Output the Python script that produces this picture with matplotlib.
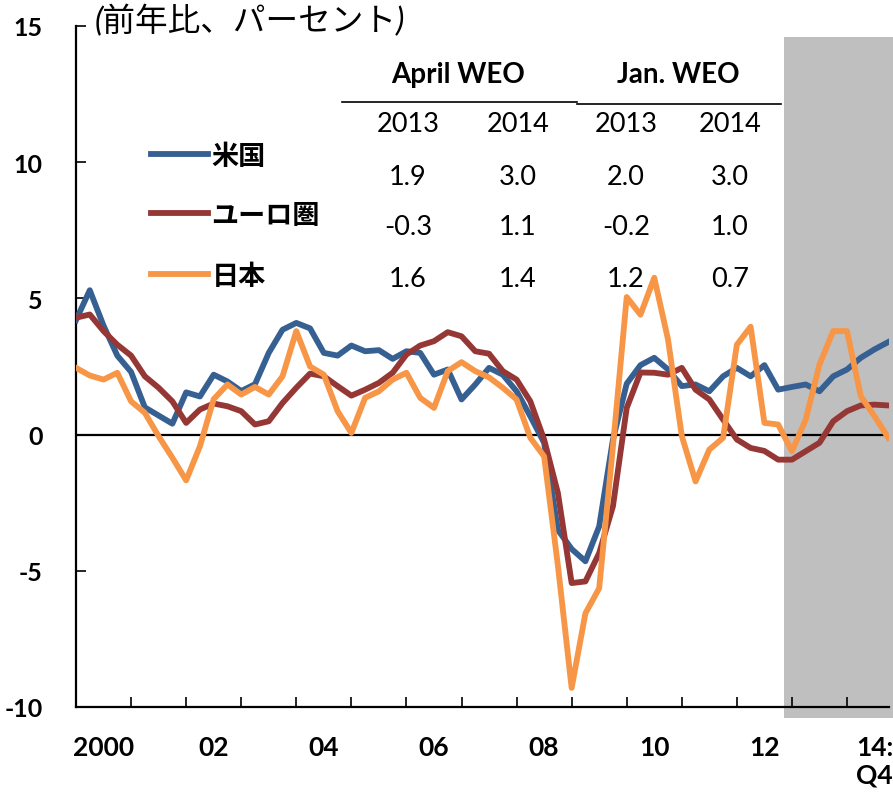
import matplotlib
matplotlib.use('Agg')
import matplotlib.pyplot as plt
from matplotlib.lines import Line2D
from matplotlib.patches import Rectangle
import numpy as np

plt.rcParams['font.family'] = ['Lato', 'Noto Sans CJK JP', 'DejaVu Sans']

# ── Data: quarterly real GDP growth, 2000Q1 - 2014Q4 ─────────
us = [4.2, 5.3, 4.0, 2.9, 2.3, 1.0, 0.7, 0.4, 1.55, 1.4,
      2.2, 1.95, 1.6, 1.85, 3.0, 3.85, 4.1, 3.9, 3.0, 2.9,
      3.27, 3.06, 3.1, 2.78, 3.06, 3.0, 2.2, 2.39, 1.29, 1.84,
      2.45, 2.2, 1.59, 0.67, -0.3, -3.5, -4.2, -4.65, -3.37, -0.18,
      1.87, 2.55, 2.82, 2.39, 1.78, 1.84, 1.59, 2.14, 2.45, 2.14,
      2.55, 1.65, 1.75, 1.84, 1.59, 2.14, 2.39, 2.82, 3.13, 3.4]
euro = [4.29, 4.41, 3.8, 3.3, 2.9, 2.14, 1.72, 1.22, 0.43, 0.92,
        1.14, 1.04, 0.86, 0.37, 0.49, 1.16, 1.72, 2.24, 2.14, 1.78,
        1.43, 1.65, 1.9, 2.27, 2.94, 3.27, 3.43, 3.76, 3.61, 3.06,
        2.97, 2.33, 2.02, 1.22, -0.18, -2.14, -5.45, -5.39, -4.35, -2.63,
        0.98, 2.28, 2.27, 2.2, 2.45, 1.65, 1.29, 0.55, -0.18, -0.49,
        -0.6, -0.92, -0.92, -0.61, -0.3, 0.49, 0.86, 1.07, 1.1, 1.07]
japan = [2.45, 2.17, 2.02, 2.27, 1.22, 0.8, -0.06, -0.85, -1.68, -0.43,
         1.3, 1.84, 1.47, 1.75, 1.47, 2.14, 3.8, 2.5, 2.2, 0.86,
         0.06, 1.35, 1.59, 2.02, 2.27, 1.35, 0.98, 2.33, 2.66, 2.33,
         2.1, 1.72, 1.29, -0.12, -0.8, -4.8, -9.3, -6.56, -5.64, -0.43,
         5.05, 4.4, 5.76, 3.49, -0.05, -1.72, -0.55, -0.12, 3.3, 3.96,
         0.43, 0.37, -0.61, 0.55, 2.57, 3.8, 3.8, 1.41, 0.67, -0.12]

series_names = ["米国", "ユーロ圏", "日本"]
series_colors = ["#376092", "#953735", "#F79646"]

year_labels = ["2000", "02", "04", "06", "08", "10", "12", "14:\nQ4"]
y_ticks = [-10, -5, 0, 5, 10, 15]
projection_start = 51.45   # shading begins here (2013 onward)

# WEO table
weo_groups = ["April WEO", "Jan. WEO"]
weo_years = ["2013", "2014", "2013", "2014"]
weo_values = [["1.9", "3.0", "2.0", "3.0"],
              ["-0.3", "1.1", "-0.2", "1.0"],
              ["1.6", "1.4", "1.2", "0.7"]]

# ─────────────────────────────────────────────────────────────
W, H = 893, 804
fig = plt.figure(figsize=(W / 100, H / 100), dpi=100)
ax = fig.add_axes([76 / W, 1 - 708 / H, (889 - 76) / W, (708 - 27) / H])

x = np.arange(len(us))

ax.add_patch(Rectangle((projection_start, -10.4), 8.0, 25.0, facecolor="#BFBFBF",
                       edgecolor="none", clip_on=False, zorder=0))
ax.axhline(0, color="black", linewidth=1.6, zorder=1)

for vals, name, col in zip([us, euro, japan], series_names, series_colors):
    ax.plot(x, vals, color=col, linewidth=4.2, label=name, zorder=3)

ax.set_xlim(0, 59.05)
ax.set_ylim(-10, 15)
ax.tick_params(axis="x", which="major", direction="in", length=7, width=1.2)
ax.tick_params(axis="x", which="minor", length=0, pad=20)
ax.tick_params(axis="y", direction="in", length=7, width=1.2, pad=24)
ax.set_yticks(y_ticks)
ax.set_yticklabels([str(v) for v in y_ticks])
ax.set_xticks(np.arange(4, 57, 4))
ax.set_xticklabels([])
ax.set_xticks(np.arange(2, 59, 8), minor=True)
ax.set_xticklabels(year_labels, minor=True, fontsize=19, fontweight="bold")

for s in ["top", "right"]:
    ax.spines[s].set_visible(False)
ax.spines["left"].set_linewidth(1.6)
ax.spines["bottom"].set_linewidth(1.6)
ax.set_facecolor("none")

leg = ax.legend(loc="upper left", bbox_to_anchor=(51 / 813, 0.865), frameon=False,
                handlelength=2.1, handletextpad=0.12, labelspacing=1.3,
                prop={"size": 19.5, "weight": "bold"})

# title
fig.text(95 / W, 1 - 21 / H, "(前年比、パーセント)", fontsize=23.5, style="italic",
         ha="left", va="center")

# WEO table
def fx(px):
    return px / W

def fy(py):
    return 1 - py / H

fig.text(fx(458), fy(75), weo_groups[0], fontsize=20, fontweight="bold",
         ha="center", va="center")
fig.text(fx(678), fy(75), weo_groups[1], fontsize=20, fontweight="bold",
         ha="center", va="center")
fig.add_artist(Line2D([fx(342), fx(577)], [fy(103), fy(103)], color="black", lw=1.2))
fig.add_artist(Line2D([fx(577), fx(781)], [fy(105), fy(105)], color="black", lw=1.2))

col_x = [408, 518, 626, 730]
for cx, yr in zip(col_x, weo_years):
    fig.text(fx(cx), fy(125), yr, fontsize=19.5, ha="center", va="center")
for row, ry in zip(weo_values, [178, 228, 280]):
    for cx, v in zip(col_x, row):
        fig.text(fx(cx), fy(ry), v, fontsize=19.5, ha="center", va="center")

# make sure the y tick labels come out bold
fig.canvas.draw()
for lab in ax.yaxis.get_ticklabels():
    lab.set_fontweight("bold")
    lab.set_fontsize(18)

plt.savefig("out.png", dpi=100)
plt.close()
